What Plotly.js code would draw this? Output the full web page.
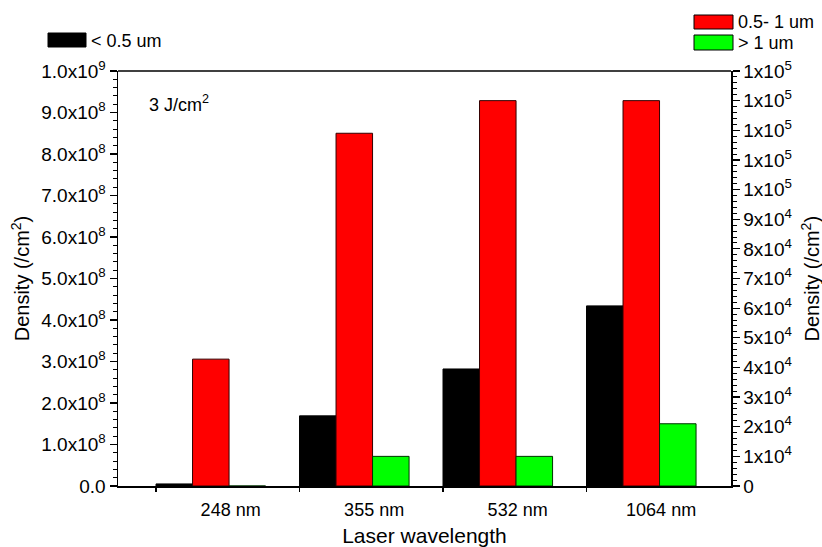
<!DOCTYPE html>
<html>
<head>
<meta charset="utf-8">
<script src="https://cdn.plot.ly/plotly-3.0.1.min.js"></script>
<style>html,body{margin:0;padding:0;background:#fff;}#chart{width:822px;height:547px;}</style>
</head>
<body>
<div id="chart"></div>
<script>
// ---- data ----
const categories = ['248 nm', '355 nm', '532 nm', '1064 nm'];
const smallVals = [5e6, 1.69e8, 2.82e8, 4.34e8];        // < 0.5 um, left axis
const midVals = [4.28e4, 1.19e5, 1.30e5, 1.30e5];       // 0.5- 1 um, right axis
const largeVals = [0, 1.0e4, 1.0e4, 2.1e4];             // > 1 um, right axis
const seriesNames = ['< 0.5 um', '0.5- 1 um', '> 1 um'];
const leftTickVals = [0, 1e8, 2e8, 3e8, 4e8, 5e8, 6e8, 7e8, 8e8, 9e8, 1e9];
const leftTickText = ['0.0', '1.0x10<sup>8</sup>', '2.0x10<sup>8</sup>', '3.0x10<sup>8</sup>', '4.0x10<sup>8</sup>',
  '5.0x10<sup>8</sup>', '6.0x10<sup>8</sup>', '7.0x10<sup>8</sup>', '8.0x10<sup>8</sup>', '9.0x10<sup>8</sup>', '1.0x10<sup>9</sup>'];
const rightTickVals = [0, 1e4, 2e4, 3e4, 4e4, 5e4, 6e4, 7e4, 8e4, 9e4, 1e5, 1.1e5, 1.2e5, 1.3e5, 1.4e5];
const rightTickText = ['0', '1x10<sup>4</sup>', '2x10<sup>4</sup>', '3x10<sup>4</sup>', '4x10<sup>4</sup>', '5x10<sup>4</sup>',
  '6x10<sup>4</sup>', '7x10<sup>4</sup>', '8x10<sup>4</sup>', '9x10<sup>4</sup>', '1x10<sup>5</sup>', '1x10<sup>5</sup>',
  '1x10<sup>5</sup>', '1x10<sup>5</sup>', '1x10<sup>5</sup>'];
const yTitle = 'Density (/cm<sup>2</sup>)';
const xTitle = 'Laser wavelength';
const colors = ['#000000', '#ff0000', '#00ff00'];

// ---- layout helpers ----
const W = 822, H = 547;
const L = 118, R = 731, T = 71, B = 486;
const px = x => (x - L) / (R - L);
const py = y => (B - y) / (B - T);
const groupIdx = categories.map((c, i) => i);
const barW = 0.2545;
const labelShift = 0.52;
const xRange = [-0.265, 4.007];
const FONT = 'Liberation Sans, Arial, sans-serif';

const traces = [
  {type: 'bar', x: groupIdx, y: smallVals, name: seriesNames[0], yaxis: 'y', width: barW, offset: 0,
   marker: {color: colors[0], line: {color: '#000', width: 1}}},
  {type: 'bar', x: groupIdx, y: midVals, name: seriesNames[1], yaxis: 'y2', width: barW, offset: barW,
   marker: {color: colors[1], line: {color: '#300', width: 1}}},
  {type: 'bar', x: groupIdx, y: largeVals, name: seriesNames[2], yaxis: 'y2', width: barW, offset: 2 * barW,
   marker: {color: colors[2], line: {color: '#030', width: 1}}}
];

const shapes = [
  {type: 'rect', xref: 'paper', yref: 'paper', x0: px(48), x1: px(86), y0: py(47), y1: py(33), fillcolor: colors[0], line: {color: '#000', width: 1}},
  {type: 'rect', xref: 'paper', yref: 'paper', x0: px(694), x1: px(733), y0: py(29), y1: py(15), fillcolor: colors[1], line: {color: '#000', width: 1}},
  {type: 'rect', xref: 'paper', yref: 'paper', x0: px(694), x1: px(733), y0: py(50), y1: py(35), fillcolor: colors[2], line: {color: '#000', width: 1}},
  {type: 'line', xref: 'paper', yref: 'paper', x0: 0, x1: 1, y0: 1, y1: 1, line: {color: '#000', width: 1.5}}
];

const annFont = {family: FONT, size: 18, color: '#000'};
const annotations = [
  {xref: 'paper', yref: 'paper', x: px(89), y: py(41), xanchor: 'left', yanchor: 'middle', text: seriesNames[0], showarrow: false, font: annFont},
  {xref: 'paper', yref: 'paper', x: px(736), y: py(22), xanchor: 'left', yanchor: 'middle', text: seriesNames[1], showarrow: false, font: annFont},
  {xref: 'paper', yref: 'paper', x: px(736), y: py(43), xanchor: 'left', yanchor: 'middle', text: seriesNames[2], showarrow: false, font: annFont},
  {xref: 'paper', yref: 'paper', x: px(147), y: py(103), xanchor: 'left', yanchor: 'middle', text: '3 J/cm<sup>2</sup>', showarrow: false, font: annFont},
  {xref: 'paper', yref: 'paper', x: px(810), y: 0.5, xanchor: 'center', yanchor: 'middle', textangle: -90, text: yTitle, showarrow: false,
   font: {family: FONT, size: 20, color: '#000'}}
];

const layout = {
  width: W, height: H,
  margin: {l: L, r: W - R, t: T, b: H - B, pad: 0},
  paper_bgcolor: '#fff', plot_bgcolor: '#fff',
  showlegend: false,
  barmode: 'overlay',
  font: {family: FONT, size: 18, color: '#000'},
  xaxis: {
    range: xRange, showgrid: false, zeroline: false,
    showline: true, linecolor: '#000', linewidth: 1.5,
    tickmode: 'array', tickvals: groupIdx.map(i => i + labelShift), ticktext: categories,
    ticks: '', tickfont: {family: FONT, size: 18}, ticklabelstandoff: 7,
    minor: {tickmode: 'array', tickvals: groupIdx, ticks: 'outside', ticklen: 4, tickcolor: '#000', tickwidth: 1.2},
    title: {text: xTitle, font: {family: FONT, size: 21}, standoff: 12},
    automargin: false
  },
  yaxis: {
    range: [0, 1e9], showgrid: false, zeroline: false,
    showline: true, linecolor: '#000', linewidth: 1.5,
    tickmode: 'array', tickvals: leftTickVals, ticktext: leftTickText,
    ticks: 'outside', ticklen: 7, tickwidth: 1.2, tickcolor: '#000',
    minor: {tickmode: 'linear', tick0: 0, dtick: 2e7, ticks: 'outside', ticklen: 4, tickwidth: 1, tickcolor: '#000'},
    tickfont: {family: FONT, size: 19},
    title: {text: yTitle, font: {family: FONT, size: 20}, standoff: 6},
    automargin: false
  },
  yaxis2: {
    overlaying: 'y', side: 'right', anchor: 'x',
    range: [0, 1.4e5], showgrid: false, zeroline: false,
    showline: true, linecolor: '#000', linewidth: 1.5,
    tickmode: 'array', tickvals: rightTickVals, ticktext: rightTickText,
    ticks: 'outside', ticklen: 7, tickwidth: 1.2, tickcolor: '#000',
    minor: {tickmode: 'linear', tick0: 0, dtick: 2e3, ticks: 'outside', ticklen: 4, tickwidth: 1, tickcolor: '#000'},
    tickfont: {family: FONT, size: 19},
    automargin: false
  },
  shapes: shapes,
  annotations: annotations
};

Plotly.newPlot('chart', traces, layout, {staticPlot: true, displayModeBar: false});
</script>
</body>
</html>
